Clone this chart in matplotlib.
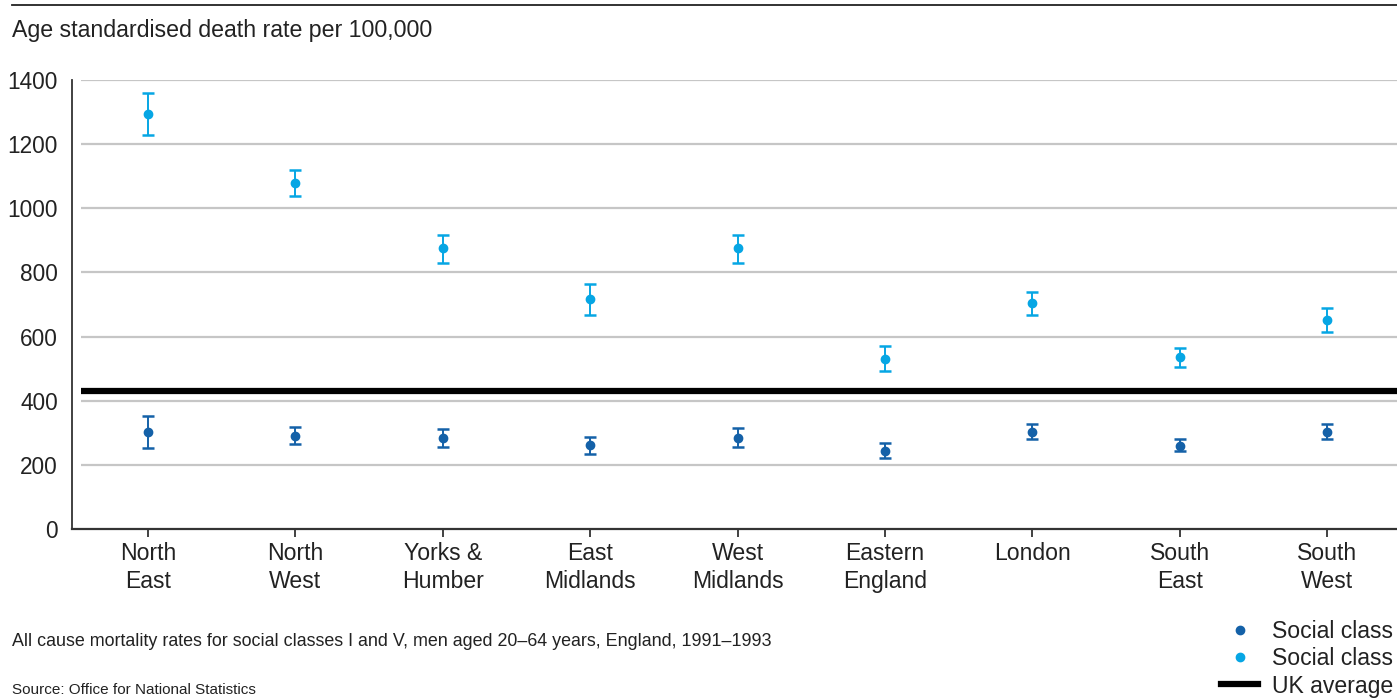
import matplotlib
matplotlib.use("Agg")
import matplotlib.pyplot as plt
from matplotlib.lines import Line2D
import numpy as np

plt.rcParams["font.family"] = ["Liberation Sans", "DejaVu Sans"]

regions = ["North\nEast", "North\nWest", "Yorks &\nHumber", "East\nMidlands", "West\nMidlands",
           "Eastern\nEngland", "London", "South\nEast", "South\nWest"]

# social class I (lower rates)
class1_rate = [303, 291, 284, 261, 285, 243, 304, 260, 304]
class1_low = [253, 266, 256, 235, 256, 222, 281, 243, 281]
class1_high = [353, 319, 313, 288, 316, 269, 328, 281, 328]

# social class V (higher rates)
class5_rate = [1294, 1078, 875, 716, 875, 531, 704, 537, 651]
class5_low = [1229, 1039, 830, 668, 830, 494, 668, 506, 613]
class5_high = [1359, 1120, 917, 764, 917, 571, 739, 565, 690]

uk_average = 430
yticks = [0, 200, 400, 600, 800, 1000, 1200, 1400]
legend_labels = ["Social class", "Social class", "UK average"]

dark_blue = "#1461a8"
light_blue = "#06a6e4"
text_col = "#222222"

W, H = 1397, 700
fig = plt.figure(figsize=(W / 100, H / 100), dpi=100)
ax = fig.add_axes([72 / W, 1 - 529 / H, 1 - 72 / W, (529 - 80) / H])

x = np.arange(len(regions))
c1 = np.array(class1_rate)
c5 = np.array(class5_rate)
err1 = [c1 - np.array(class1_low), np.array(class1_high) - c1]
err5 = [c5 - np.array(class5_low), np.array(class5_high) - c5]

# gridlines start a little right of the spine
gx0 = 9 / (W - 72)
ax.hlines(yticks[1:], gx0, 1, transform=ax.get_yaxis_transform(), color="#c6c6c6", lw=1.6, zorder=1)
ax.hlines(uk_average, gx0, 1, transform=ax.get_yaxis_transform(), color="black", lw=4.5, zorder=2)

ax.errorbar(x, c1, yerr=err1, fmt="o", color=dark_blue, ms=6, elinewidth=1.4, capsize=4, capthick=1.8, zorder=3)
ax.errorbar(x, c5, yerr=err5, fmt="o", color=light_blue, ms=6, elinewidth=1.4, capsize=4, capthick=1.8, zorder=3)

ax.set_xlim(-0.516, 8.474)
ax.set_ylim(0, 1400)
ax.set_xticks(x)
ax.set_xticklabels(regions, fontsize=16.6, color=text_col, linespacing=1.28)
ax.set_yticks(yticks)
ax.set_yticklabels([str(v) for v in yticks], fontsize=16.3, color=text_col)
ax.tick_params(axis="y", length=0, pad=10)
ax.tick_params(axis="x", length=6, width=1.3, color="#333333", pad=3.5)

for s in ["top", "right"]:
    ax.spines[s].set_visible(False)
ax.spines["left"].set_color("#333333")
ax.spines["left"].set_linewidth(1.3)
ax.spines["bottom"].set_color("#333333")
ax.spines["bottom"].set_linewidth(1.6)

# top rule and texts
fig.add_artist(Line2D([12 / W, 1], [1 - 5 / H, 1 - 5 / H], color="#222222", lw=1.3))
fig.text(12 / W, 1 - 30 / H, "Age standardised death rate per 100,000", fontsize=16.7,
         color=text_col, va="center", ha="left")
fig.text(12 / W, 1 - 642 / H, "All cause mortality rates for social classes I and V, men aged 20\u201364 years, England, 1991\u20131993",
         fontsize=12.9, color=text_col, va="center", ha="left")
fig.text(12 / W, 1 - 690 / H, "Source: Office for National Statistics", fontsize=11,
         color=text_col, va="center", ha="left")

handles = [
    Line2D([], [], color=dark_blue, marker="o", ls="none", ms=6),
    Line2D([], [], color=light_blue, marker="o", ls="none", ms=6),
    Line2D([], [], color="black", lw=4.5),
]
fig.legend(handles, legend_labels, loc="upper left",
           bbox_to_anchor=(1212 / W, 1 - 611 / H), frameon=False, fontsize=16.6,
           handlelength=1.6, handletextpad=0.6, labelspacing=0.18, borderaxespad=0,
           labelcolor=text_col)

fig.savefig("out.png", dpi=100)
